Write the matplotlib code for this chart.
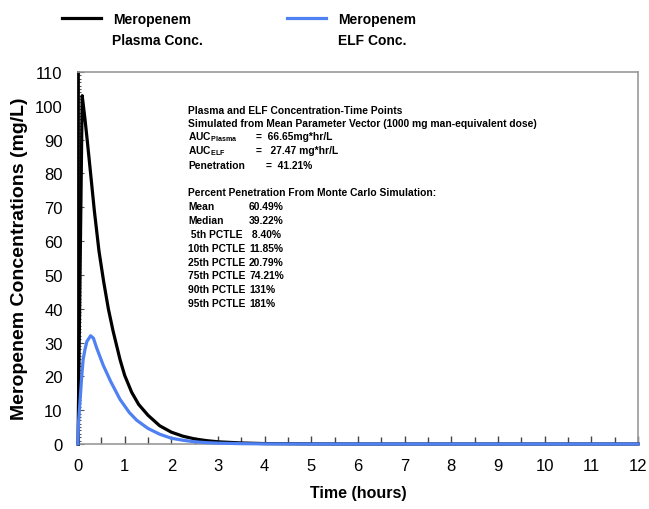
import matplotlib
matplotlib.use("Agg")
import matplotlib.pyplot as plt
from matplotlib.ticker import MultipleLocator

# datos
time_plasma = [0, 0.09, 0.15, 0.2, 0.27, 0.35, 0.45, 0.55, 0.65, 0.75, 0.9, 1.0, 1.15, 1.3, 1.5,
               1.75, 2.0, 2.25, 2.5, 2.75, 3.0, 3.5, 4.0, 5.0, 6.0, 8.0, 10.0, 12.0]
plasma = [0, 103, 96, 89.5, 80, 69, 57, 48, 40, 33.5, 25, 20.3, 15.3, 11.7, 8.5,
          5.4, 3.5, 2.3, 1.5, 1.0, 0.65, 0.3, 0.12, 0.03, 0, 0, 0, 0]

time_elf = [0, 0.01, 0.04, 0.08, 0.11, 0.15, 0.19, 0.27, 0.33, 0.4, 0.54, 0.7, 0.9, 1.1, 1.26,
            1.5, 1.75, 2.0, 2.25, 2.5, 2.75, 3.0, 3.5, 4.0, 5.0, 6.0, 8.0, 10.0, 12.0]
elf = [0, 6, 12, 20, 25, 28, 30.3, 32, 31.3, 28.4, 23.3, 18.5, 13.2, 9.3, 7,
       4.6, 2.9, 1.7, 1.1, 0.65, 0.4, 0.25, 0.1, 0.04, 0, 0, 0, 0, 0]

header = ["Plasma and ELF Concentration-Time Points",
          "Simulated from Mean Parameter Vector (1000 mg man-equivalent dose)"]
auc_labels = [r"AUC$_{\mathbf{Plasma}}$", r"AUC$_{\mathbf{ELF}}$", "Penetration"]
auc_values = ["=  66.65mg*hr/L", "=   27.47 mg*hr/L", "=  41.21%"]
mc_title = "Percent Penetration From Monte Carlo Simulation:"
mc_labels = ["Mean", "Median", " 5th PCTLE", "10th PCTLE", "25th PCTLE", "75th PCTLE",
             "90th PCTLE", "95th PCTLE"]
mc_values = ["60.49%", "39.22%", " 8.40%", "11.85%", "20.79%", "74.21%", "131%", "181%"]

BLUE = "#4f81f2"
FONT = ["Liberation Sans", "DejaVu Sans"]
plt.rcParams["font.family"] = FONT
plt.rcParams["mathtext.fontset"] = "custom"
plt.rcParams["mathtext.rm"] = "Liberation Sans"
plt.rcParams["mathtext.bf"] = "Liberation Sans:bold"

W, H = 649, 510
fig = plt.figure(figsize=(W / 100, H / 100), dpi=100)
ax = fig.add_axes([78 / W, 65 / H, (638 - 78) / W, (445 - 73) / H])


def txt(px, py, s, **kw):
    fig.text(px / W, 1 - py / H, s, weight="bold", va="center", **kw)


l1, = ax.plot(time_plasma, plasma, color="black", lw=2.3, clip_on=False, zorder=3)
l2, = ax.plot(time_elf, elf, color=BLUE, lw=2.3, clip_on=False, zorder=4)

ax.set_xlim(0, 12)
ax.set_ylim(0, 110)
ax.xaxis.set_major_locator(MultipleLocator(1))
ax.xaxis.set_minor_locator(MultipleLocator(0.5))
ax.yaxis.set_major_locator(MultipleLocator(10))
ax.yaxis.set_minor_locator(MultipleLocator(1))
ax.tick_params(axis="x", which="both", direction="in", color="#444444", width=1,
               labelsize=12, pad=10)
ax.tick_params(axis="x", which="major", length=6)
ax.tick_params(axis="x", which="minor", length=5)
ax.tick_params(axis="y", which="both", direction="in", color="#555555", width=0.8,
               labelsize=12, pad=11)
ax.tick_params(axis="y", which="major", length=4)
ax.tick_params(axis="y", which="minor", length=2.5)
for s in ["top", "right", "bottom"]:
    ax.spines[s].set_color("#999999")
    ax.spines[s].set_linewidth(1.2)
ax.spines["left"].set_color("black")
ax.spines["left"].set_linewidth(2)

ax.set_xlabel("Time (hours)", weight="bold", fontsize=11.5, labelpad=9)
ax.set_ylabel("Meropenem Concentrations (mg/L)", weight="bold", fontsize=14, labelpad=5)

# leyenda
for line, x0 in [(l1, 62), (l2, 287)]:
    fig.legend([line], ["Meropenem"], loc="center left", bbox_to_anchor=(x0 / W, 1 - 20 / H),
               frameon=False, borderpad=0, borderaxespad=0, handlelength=2.8,
               handletextpad=0.85, prop={"weight": "bold", "size": 10})
txt(112, 41, "Plasma Conc.", fontsize=10)
txt(338, 41, "ELF Conc.", fontsize=10)

# texto de la simulacion
fs = 7.4
for i, s in enumerate(header):
    txt(188, 111 + 13 * i, s, fontsize=fs)
for i, (lab, val) in enumerate(zip(auc_labels, auc_values)):
    txt(188, 137 + 14.5 * i, lab, fontsize=fs)
    txt(256 if i < 2 else 266, 137 + 14.5 * i, val, fontsize=fs)
txt(188, 193, mc_title, fontsize=fs)
for i, (lab, val) in enumerate(zip(mc_labels, mc_values)):
    txt(188, 207 + 13.9 * i, lab, fontsize=fs)
    txt(249, 207 + 13.9 * i, val, fontsize=fs)

fig.savefig("out.png", dpi=100)
